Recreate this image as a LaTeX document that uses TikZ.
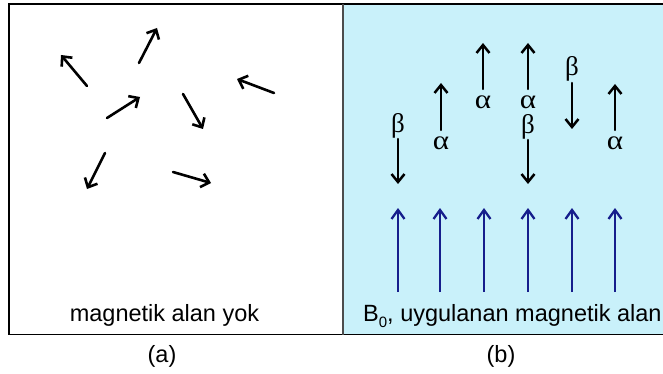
\documentclass[tikz,border=0pt]{standalone}
\usepackage{fontspec}
\setmainfont{Liberation Sans}
\newfontfamily\greekfont{Liberation Serif}
\usetikzlibrary{arrows.meta}
\definecolor{fieldbg}{RGB}{201,241,250}
\definecolor{fieldblue}{RGB}{22,30,140}
\tikzset{
  spin/.style={line width=2.6pt, line cap=round, -{Straight Barb[length=7.5pt,width=14pt,line width=2.6pt]}},
  spinv/.style={line width=2.5pt, line cap=round, -{Straight Barb[length=8pt,width=13pt,line width=2.5pt]}},
  fieldarrow/.style={draw=fieldblue, line width=2.3pt, -{Straight Barb[length=9pt,width=13pt,line width=2.3pt]}},
  greek/.style={inner sep=0pt, font=\greekfont\fontsize{27}{27}\selectfont},
  caption/.style={inner sep=0pt, anchor=base, font=\fontsize{23.5}{28}\selectfont},
}
\newcommand{\alphaglyph}{\scalebox{1.15}[1]{α}}
\begin{document}
\begin{tikzpicture}[x=1pt,y=-1pt]
\useasboundingbox (0,0) rectangle (663,374);
% panels
\fill[white] (0,0) rectangle (663,374);
\fill[fieldbg] (343,4) rectangle (666,334.5);
\draw[line width=1.5pt] (9,4) rectangle (666,334.5);
\draw[line width=1.5pt, black!70] (343,4) -- (343,334.5);

% (a) randomly oriented spins
\coordinate (a1s) at (87,86);   \coordinate (a1e) at (61,55);
\coordinate (a2s) at (139,63);  \coordinate (a2e) at (157,28);
\coordinate (a3s) at (107,118); \coordinate (a3e) at (140,97);
\coordinate (a4s) at (183,94);  \coordinate (a4e) at (203,129);
\coordinate (a5s) at (274,93);  \coordinate (a5e) at (237,79);
\coordinate (a6s) at (105,153); \coordinate (a6e) at (87,189);
\coordinate (a7s) at (173,172); \coordinate (a7e) at (211,183);
\foreach \i in {1,...,7} \draw[spin] (a\i s) -- (a\i e);

\node[caption] (capa) at (164.5,321) {magnetik alan yok};
\node[caption] (laba) at (162,362) {(a)};

% (b) spins aligned with / against B0
% column 1: beta
\node[greek] (b1) at (398,126) {β};
\coordinate (c1s) at (398,139); \coordinate (c1e) at (398,184);
\draw[spinv] (c1s) -- (c1e);
% column 2: alpha
\node[greek] (a2) at (441,143.5) {\alphaglyph};
\coordinate (c2s) at (441,130); \coordinate (c2e) at (441,83);
\draw[spinv] (c2s) -- (c2e);
% column 3: alpha
\node[greek] (a3) at (483,102.5) {\alphaglyph};
\coordinate (c3s) at (483,89); \coordinate (c3e) at (483,43);
\draw[spinv] (c3s) -- (c3e);
% column 4: alpha and beta
\node[greek] (a4) at (528,102.5) {\alphaglyph};
\node[greek] (b4) at (528,127) {β};
\coordinate (c4s) at (528,89); \coordinate (c4e) at (528,43);
\coordinate (c4t) at (528,140); \coordinate (c4b) at (528,184);
\draw[spinv] (c4s) -- (c4e);
\draw[spinv] (c4t) -- (c4b);
% column 5: beta
\node[greek] (b5) at (572,69) {β};
\coordinate (c5s) at (572,83); \coordinate (c5e) at (572,129);
\draw[spinv] (c5s) -- (c5e);
% column 6: alpha
\node[greek] (a6) at (615,143.5) {\alphaglyph};
\coordinate (c6s) at (615,130); \coordinate (c6e) at (615,84);
\draw[spinv] (c6s) -- (c6e);

% applied field B0
\foreach \x [count=\k] in {398,440,484,528,572,615} {
  \coordinate (f\k s) at (\x,292);
  \coordinate (f\k e) at (\x,208);
  \draw[fieldarrow] (f\k s) -- (f\k e);
}

\node[caption, anchor=base west] (capb) at (363,321)
  {B\raisebox{-0.28em}{\fontsize{15}{15}\selectfont 0}, uygulanan magnetik alan};
\node[caption] (labb) at (501,362) {(b)};
\end{tikzpicture}
\end{document}
